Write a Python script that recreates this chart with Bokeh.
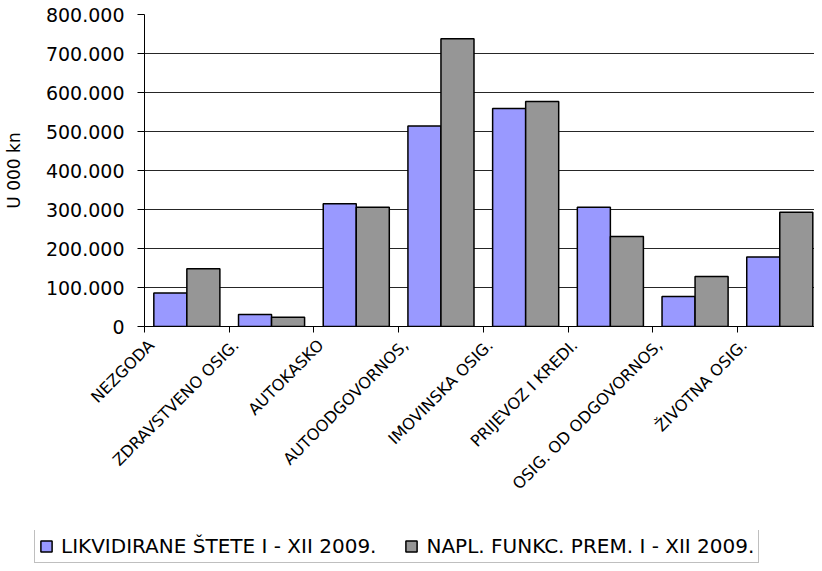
import math
from bokeh.plotting import figure
from bokeh.layouts import column
from bokeh.models import Range1d, FixedTicker, Legend, LegendItem, ColumnDataSource
from bokeh.transform import dodge
from bokeh.embed import file_html
from bokeh.resources import INLINE

categories = ["NEZGODA", "ZDRAVSTVENO OSIG.", "AUTOKASKO", "AUTOODGOVORNOS,",
              "IMOVINSKA OSIG.", "PRIJEVOZ I KREDI.", "OSIG. OD ODGOVORNOS,", "ŽIVOTNA OSIG."]
likvidirane = [86000, 31000, 315000, 514000, 559000, 306000, 77000, 178000]
naplacene = [148000, 24000, 306000, 738000, 577000, 231000, 128000, 293000]
series_names = ["LIKVIDIRANE ŠTETE I - XII 2009.", "NAPL. FUNKC. PREM. I - XII 2009."]
series_colors = ["#9999FF", "#969696"]
y_ticks = [0, 100000, 200000, 300000, 400000, 500000, 600000, 700000, 800000]
y_tick_labels = ["0", "100.000", "200.000", "300.000", "400.000", "500.000",
                 "600.000", "700.000", "800.000"]
y_axis_title = "U 000 kn"

FONT = "DejaVu Sans"
n = len(categories)
xc = [i + 0.5 for i in range(n)]
src = ColumnDataSource(dict(x=xc, a=likvidirane, b=naplacene))

p = figure(width=814, height=530, output_backend="svg", toolbar_location=None,
           x_range=Range1d(0, 7.91), y_range=Range1d(0, 800000),
           min_border_left=141, min_border_top=14, min_border_right=0,
           min_border_bottom=204)
p.frame_align = False
p.outline_line_color = None
p.background_fill_color = "white"
p.border_fill_color = "white"

p.vbar(x=dodge("x", -0.195, range=p.x_range), top="a", width=0.39, source=src,
       fill_color=series_colors[0], line_color="black", line_width=1.5)
p.vbar(x=dodge("x", 0.195, range=p.x_range), top="b", width=0.39, source=src,
       fill_color=series_colors[1], line_color="black", line_width=1.5)

# x axis: minor ticks at category boundaries, rotated labels (Excel-like anchor)
label_pos = [i + 0.08 for i in range(n)]
xa = p.xaxis[0]
xa.ticker = FixedTicker(ticks=label_pos, minor_ticks=list(range(n)))
xa.major_label_overrides = {v: c for v, c in zip(label_pos, categories)}
xa.major_label_orientation = math.pi / 4
xa.major_tick_line_color = None
xa.major_tick_out = 0
xa.major_tick_in = 0
xa.minor_tick_line_color = "black"
xa.minor_tick_out = 6
xa.minor_tick_in = 0
xa.axis_line_color = "black"
xa.axis_line_width = 1
xa.major_label_text_font = FONT
xa.major_label_text_font_size = "16px"
xa.major_label_text_color = "black"
xa.major_label_standoff = 10

ya = p.yaxis[0]
ya.ticker = FixedTicker(ticks=y_ticks)
ya.major_label_overrides = {v: t for v, t in zip(y_ticks, y_tick_labels)}
ya.minor_tick_line_color = None
ya.major_tick_out = 7
ya.major_tick_in = 0
ya.major_tick_line_color = "black"
ya.axis_line_color = "black"
ya.major_label_text_font = FONT
ya.major_label_text_font_size = "19px"
ya.major_label_text_color = "black"
ya.major_label_standoff = 13
ya.axis_label = y_axis_title
ya.axis_label_text_font = FONT
ya.axis_label_text_font_size = "17px"
ya.axis_label_text_font_style = "normal"
ya.axis_label_text_color = "black"
ya.axis_label_standoff = 19

p.xgrid.grid_line_color = None
p.ygrid.grid_line_color = "black"
p.ygrid.grid_line_width = 1
p.ygrid.grid_line_alpha = 0.85

# legend strip below the chart (hidden copies of the series supply the legend swatches)
q = figure(width=814, height=33, output_backend="svg", toolbar_location=None,
           x_range=Range1d(0, 1), y_range=Range1d(0, 1),
           min_border_left=0, min_border_right=0, min_border_top=0, min_border_bottom=0)
q.frame_align = False
q.axis.visible = False
q.grid.visible = False
q.outline_line_color = None
q.border_fill_color = "white"
k1 = q.vbar(x="x", top="a", width=0.39, source=src, visible=False,
            fill_color=series_colors[0], line_color="black", line_width=1.5)
k2 = q.vbar(x="x", top="b", width=0.39, source=src, visible=False,
            fill_color=series_colors[1], line_color="black", line_width=1.5)

legend = Legend(items=[LegendItem(label=series_names[0], renderers=[k1]),
                       LegendItem(label=series_names[1], renderers=[k2])],
                orientation="horizontal", location=(34, 0))
legend.border_line_color = "#808080"
legend.border_line_width = 1.5
legend.background_fill_color = "white"
legend.background_fill_alpha = 1
legend.inactive_fill_alpha = 0
legend.label_text_font = FONT
legend.label_text_font_size = "20px"
legend.label_text_color = "black"
legend.glyph_width = 14
legend.glyph_height = 14
legend.label_standoff = 8
legend.spacing = 28
legend.padding = 4
legend.margin = 0
legend.label_height = 20
q.add_layout(legend)

open("out.html", "w").write(file_html(column(p, q, spacing=0), INLINE))
